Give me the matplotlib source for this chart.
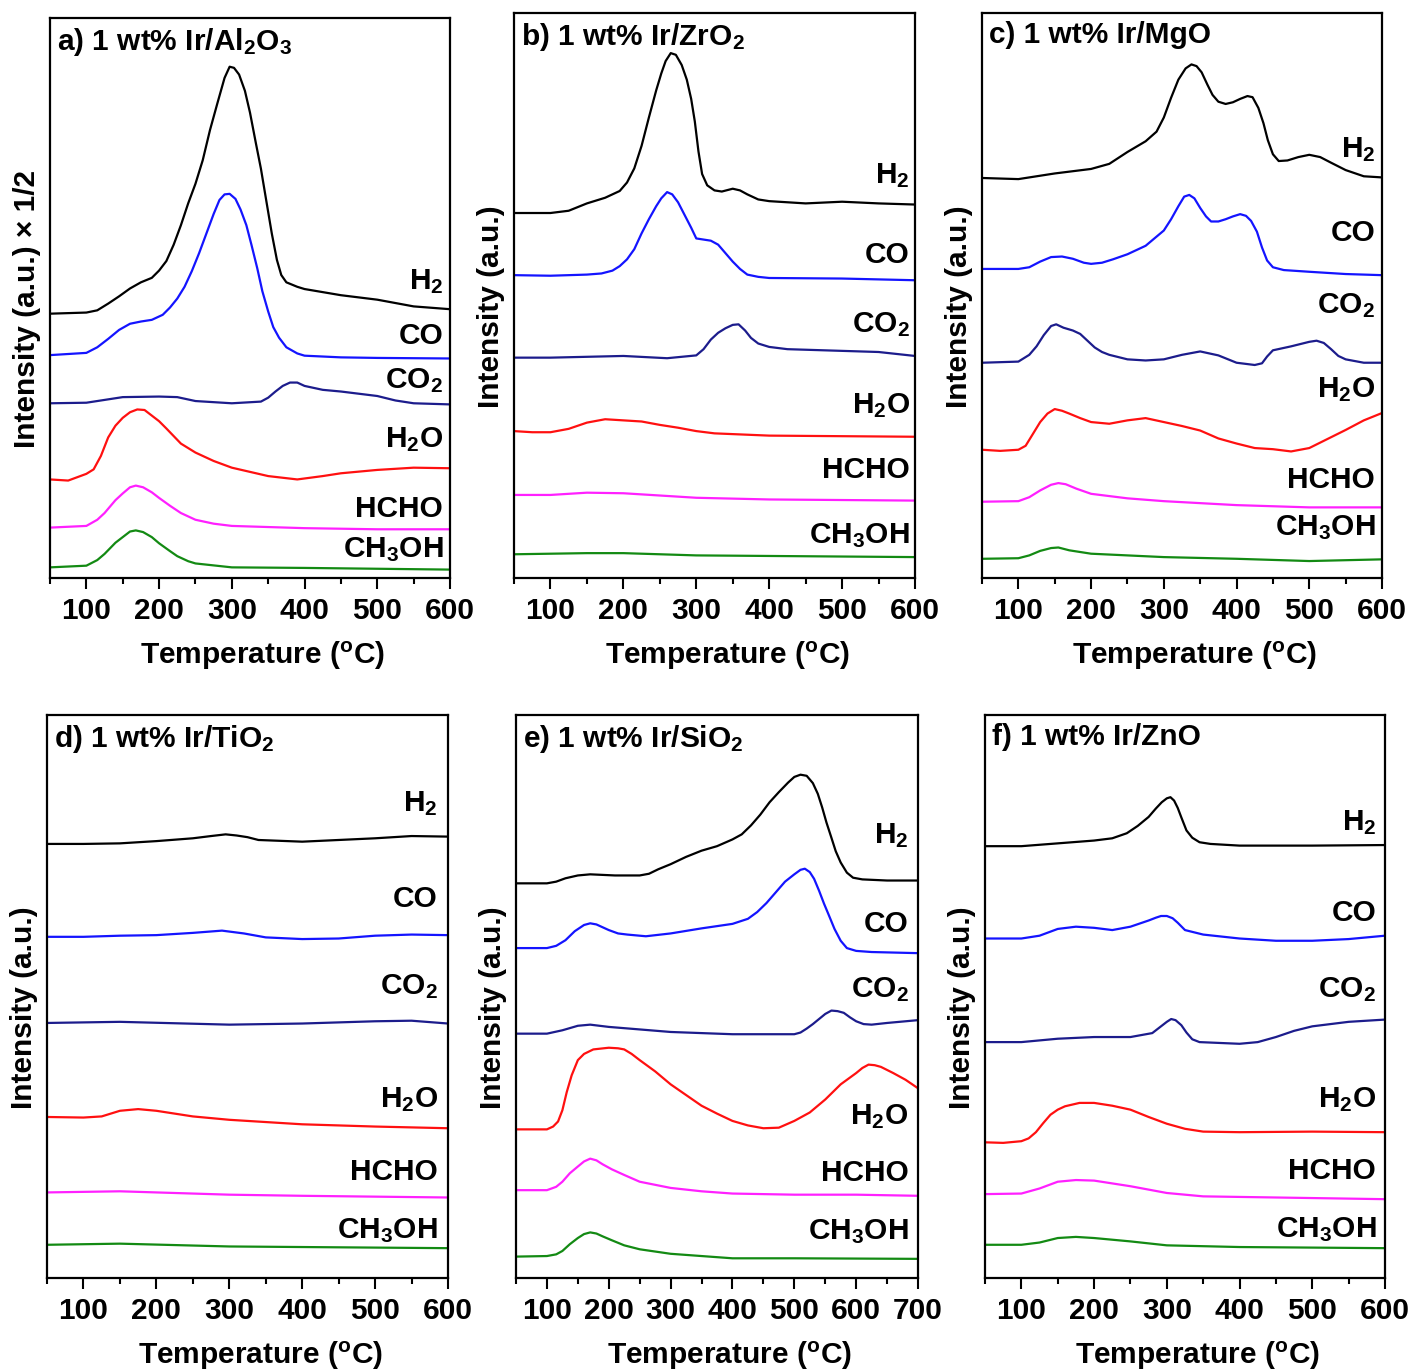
"""TPD-MS panels for 1 wt% Ir on six supports (H2, CO, CO2, H2O, HCHO, CH3OH)."""
import matplotlib
matplotlib.use("Agg")
import matplotlib.pyplot as plt
from matplotlib.ticker import MultipleLocator

plt.rcParams.update({
    "font.family": ["Liberation Sans", "DejaVu Sans"],
    "font.weight": "bold",
    "font.size": 21.5,
    "axes.labelweight": "bold",
    "mathtext.fontset": "custom",
    "mathtext.rm": "Liberation Sans:bold",
    "mathtext.it": "Liberation Sans:bold",
    "mathtext.bf": "Liberation Sans:bold",
    "axes.linewidth": 1.6,
})

SPECIES = ["H2", "CO", "CO2", "H2O", "HCHO", "CH3OH"]
SPECIES_TEX = ["H$_2$", "CO", "CO$_2$", "H$_2$O", "HCHO", "CH$_3$OH"]
COLORS = ["#000000", "#1414ff", "#1c1c8c", "#ff1010", "#ff20ff", "#138a13"]
TITLES = ["a) 1 wt% Ir/Al$_2$O$_3$", "b) 1 wt% Ir/ZrO$_2$", "c) 1 wt% Ir/MgO",
          "d) 1 wt% Ir/TiO$_2$", "e) 1 wt% Ir/SiO$_2$", "f) 1 wt% Ir/ZnO"]

# intensity (a.u., offset traces, % of panel height) vs temperature (C)
# ---- a) Al2O3 ----
A_H2 = [(50, 47.2), (100, 47.4), (115, 47.8), (130, 49.0), (145, 50.3), (160, 51.7),
        (175, 52.8), (190, 53.6), (200, 54.9), (210, 56.6), (220, 59.5), (230, 63.0),
        (240, 66.9), (250, 70.4), (260, 74.6), (270, 80.0), (280, 84.7), (290, 89.3),
        (297, 91.3), (303, 91.1), (310, 89.9), (318, 87.0), (325, 83.1), (333, 77.7),
        (340, 73.1), (348, 66.9), (355, 61.5), (362, 56.8), (368, 54.1), (375, 52.8),
        (390, 52.0), (400, 51.6), (450, 50.5), (500, 49.7), (550, 48.5), (600, 48.0)]
A_CO = [(50, 39.8), (100, 40.2), (115, 41.2), (130, 42.7), (145, 44.3), (160, 45.4),
        (175, 45.8), (190, 46.1), (205, 47.0), (215, 48.3), (225, 49.9), (235, 52.0),
        (245, 54.8), (255, 58.0), (265, 61.5), (275, 65.0), (283, 67.5), (290, 68.5),
        (297, 68.6), (305, 67.7), (312, 65.8), (320, 63.0), (327, 59.5), (335, 55.3),
        (342, 51.2), (350, 47.6), (357, 44.8), (365, 42.9), (375, 41.2), (390, 40.1),
        (400, 39.7), (450, 39.4), (500, 39.3), (600, 39.2)]
A_CO2 = [(50, 31.2), (100, 31.3), (150, 32.3), (200, 32.4), (225, 32.3), (250, 31.6),
         (300, 31.2), (340, 31.5), (350, 32.2), (360, 33.3), (370, 34.3), (380, 34.9),
         (390, 34.9), (400, 34.3), (425, 33.6), (450, 33.3), (500, 32.5), (525, 31.7),
         (550, 31.2), (600, 31.0)]
A_H2O = [(50, 17.6), (75, 17.4), (100, 18.6), (110, 19.4), (120, 21.8), (130, 25.1),
         (140, 27.2), (150, 28.6), (160, 29.6), (170, 30.1), (180, 30.0), (190, 29.0),
         (200, 28.0), (210, 26.7), (230, 24.0), (250, 22.4), (275, 20.9), (300, 19.7),
         (350, 18.2), (390, 17.6), (425, 18.2), (450, 18.7), (500, 19.3), (550, 19.7),
         (600, 19.6)]
A_HCHO = [(50, 9.0), (100, 9.3), (115, 10.4), (125, 11.6), (140, 13.9), (150, 15.1),
          (160, 16.2), (168, 16.5), (178, 16.2), (190, 15.3), (200, 14.3), (215, 12.9),
          (230, 11.6), (250, 10.4), (275, 9.7), (300, 9.3), (400, 8.9), (500, 8.7),
          (600, 8.7)]
A_CH3OH = [(50, 1.9), (100, 2.2), (115, 3.2), (125, 4.3), (140, 6.3), (150, 7.3),
           (160, 8.3), (168, 8.5), (178, 8.2), (190, 7.3), (200, 6.2), (215, 4.8),
           (225, 3.9), (240, 3.0), (250, 2.6), (300, 1.9), (400, 1.8), (600, 1.5)]

# ---- b) ZrO2 ----
B_H2 = [(50, 64.6), (100, 64.6), (125, 65.0), (150, 66.3), (175, 67.3), (195, 68.5),
        (205, 70.0), (215, 72.5), (225, 76.5), (235, 81.5), (245, 86.3), (252, 89.3),
        (258, 91.5), (265, 92.9), (272, 92.6), (280, 90.8), (287, 88.2), (293, 84.8),
        (298, 80.8), (303, 75.5), (308, 71.5), (315, 69.5), (325, 68.6), (335, 68.4),
        (350, 68.9), (360, 68.6), (370, 67.9), (385, 67.0), (400, 66.7), (450, 66.3),
        (500, 66.6), (550, 66.3), (600, 66.1)]
B_CO = [(50, 53.6), (100, 53.5), (150, 53.7), (170, 53.9), (185, 54.4), (195, 55.2),
        (205, 56.4), (215, 58.2), (225, 61.0), (235, 63.5), (245, 65.8), (252, 67.2),
        (260, 68.3), (267, 67.9), (275, 66.5), (285, 64.0), (293, 62.0), (300, 60.1),
        (310, 59.9), (320, 59.7), (330, 59.0), (340, 57.5), (350, 56.0), (360, 54.7),
        (370, 53.7), (385, 53.3), (400, 53.1), (500, 53.0), (600, 52.7)]
B_CO2 = [(50, 39.0), (100, 39.0), (200, 39.3), (260, 38.9), (300, 39.4), (310, 40.5),
         (320, 42.2), (330, 43.4), (340, 44.2), (350, 44.8), (358, 44.9), (367, 43.8),
         (375, 42.5), (385, 41.5), (400, 40.9), (425, 40.5), (500, 40.2), (550, 40.0),
         (600, 39.3)]
B_H2O = [(50, 26.0), (75, 25.8), (100, 25.8), (125, 26.4), (150, 27.5), (175, 28.1),
         (200, 27.9), (225, 27.7), (250, 27.1), (275, 26.6), (300, 26.0), (325, 25.6),
         (400, 25.2), (500, 25.1), (600, 25.0)]
B_HCHO = [(50, 14.7), (100, 14.7), (150, 15.1), (200, 15.0), (300, 14.2), (400, 13.9),
          (600, 13.7)]
B_CH3OH = [(50, 4.2), (150, 4.4), (200, 4.4), (300, 4.0), (600, 3.7)]

# ---- c) MgO ----
C_H2 = [(50, 70.8), (100, 70.6), (150, 71.6), (200, 72.4), (225, 73.3), (250, 75.4),
        (275, 77.3), (290, 79.0), (300, 81.5), (310, 85.0), (320, 88.2), (330, 90.2),
        (338, 90.9), (345, 90.6), (352, 89.5), (360, 87.3), (367, 85.5), (375, 84.3),
        (385, 83.9), (395, 84.2), (405, 84.8), (415, 85.3), (422, 85.1), (430, 83.2),
        (437, 80.5), (443, 77.5), (450, 75.0), (458, 73.8), (470, 73.9), (485, 74.5),
        (500, 74.9), (515, 74.5), (530, 73.5), (550, 72.2), (575, 71.1), (600, 70.9)]
C_CO = [(50, 54.7), (100, 54.7), (115, 55.0), (130, 56.0), (145, 56.8), (160, 56.9),
        (175, 56.5), (190, 55.8), (200, 55.6), (215, 55.8), (230, 56.4), (250, 57.3),
        (275, 58.8), (300, 61.5), (310, 63.5), (320, 65.8), (328, 67.5), (335, 67.8),
        (342, 67.2), (350, 65.5), (358, 64.0), (365, 63.1), (375, 63.1), (385, 63.5),
        (395, 64.0), (405, 64.4), (413, 64.1), (420, 63.2), (428, 61.3), (435, 58.5),
        (442, 56.2), (450, 55.0), (465, 54.5), (500, 54.2), (550, 53.8), (600, 53.6)]
C_CO2 = [(50, 38.1), (100, 38.3), (115, 39.5), (125, 41.0), (135, 43.0), (145, 44.6),
         (152, 44.9), (162, 44.3), (175, 43.8), (185, 43.2), (195, 42.0), (205, 40.8),
         (215, 40.0), (225, 39.5), (250, 38.7), (275, 38.5), (300, 38.7), (325, 39.5),
         (350, 40.1), (375, 39.4), (400, 38.1), (425, 37.7), (435, 38.0), (442, 39.2),
         (450, 40.3), (475, 41.0), (500, 41.8), (510, 42.0), (520, 41.6), (530, 40.5),
         (540, 39.3), (550, 38.7), (575, 38.1), (600, 38.1)]
C_H2O = [(50, 22.7), (75, 22.5), (100, 22.7), (110, 23.4), (120, 25.5), (130, 27.6),
         (140, 29.1), (150, 29.9), (160, 29.6), (170, 29.1), (185, 28.3), (200, 27.6),
         (225, 27.3), (250, 27.9), (275, 28.3), (300, 27.6), (325, 26.9), (350, 26.1),
         (375, 24.7), (400, 23.8), (425, 23.0), (450, 22.8), (475, 22.4), (500, 23.0),
         (525, 24.6), (550, 26.2), (575, 27.9), (600, 29.2)]
C_HCHO = [(50, 13.5), (100, 13.6), (115, 14.3), (130, 15.5), (145, 16.5), (155, 16.8),
          (165, 16.6), (180, 15.8), (200, 14.9), (250, 14.1), (300, 13.6), (400, 12.9),
          (500, 12.5), (600, 12.5)]
C_CH3OH = [(50, 3.4), (100, 3.5), (115, 4.0), (130, 4.8), (145, 5.3), (155, 5.4),
           (170, 4.9), (200, 4.3), (300, 3.7), (400, 3.4), (500, 3.0), (600, 3.3)]

# ---- d) TiO2 ----
D_H2 = [(50, 77.1), (100, 77.1), (150, 77.2), (200, 77.6), (250, 78.1), (275, 78.5),
        (295, 78.8), (310, 78.6), (325, 78.3), (340, 77.8), (400, 77.5), (450, 77.8),
        (500, 78.1), (550, 78.5), (600, 78.4)]
D_CO = [(50, 60.6), (100, 60.6), (150, 60.8), (200, 60.9), (250, 61.3), (290, 61.7),
        (320, 61.2), (350, 60.5), (400, 60.2), (450, 60.3), (500, 60.8), (550, 61.0),
        (600, 60.9)]
D_CO2 = [(50, 45.3), (150, 45.5), (300, 45.0), (400, 45.2), (500, 45.6), (550, 45.7),
         (600, 45.2)]
D_H2O = [(50, 28.6), (100, 28.5), (125, 28.7), (150, 29.7), (175, 30.0), (200, 29.7),
         (250, 28.7), (300, 28.1), (400, 27.3), (500, 26.9), (600, 26.6)]
D_HCHO = [(50, 15.2), (150, 15.4), (200, 15.2), (300, 14.8), (400, 14.6), (600, 14.3)]
D_CH3OH = [(50, 5.9), (150, 6.1), (300, 5.6), (600, 5.3)]

# ---- e) SiO2 ----
E_H2 = [(50, 70.1), (100, 70.1), (115, 70.4), (130, 71.0), (150, 71.5), (170, 71.7),
        (190, 71.6), (210, 71.5), (250, 71.5), (265, 71.8), (280, 72.6), (300, 73.5),
        (325, 74.8), (350, 75.9), (375, 76.7), (400, 77.9), (415, 78.8), (430, 80.4),
        (445, 82.3), (460, 84.5), (475, 86.3), (490, 88.0), (500, 89.0), (510, 89.4),
        (520, 89.2), (530, 87.9), (538, 86.0), (545, 83.6), (552, 80.9), (560, 78.2),
        (567, 75.8), (575, 73.8), (585, 72.0), (595, 71.1), (610, 70.8), (650, 70.6),
        (700, 70.6)]
E_CO = [(50, 58.6), (100, 58.6), (115, 59.0), (130, 60.0), (145, 61.6), (160, 62.7),
        (170, 63.0), (180, 62.8), (190, 62.3), (200, 61.8), (215, 61.2), (230, 61.0),
        (260, 60.7), (300, 61.2), (350, 62.1), (400, 62.9), (425, 63.8), (440, 65.0),
        (455, 66.6), (470, 68.5), (485, 70.4), (500, 71.7), (510, 72.5), (517, 72.7),
        (525, 72.1), (532, 70.9), (540, 68.8), (548, 66.5), (556, 64.4), (565, 62.0),
        (575, 59.9), (585, 58.6), (600, 58.1), (625, 57.9), (700, 57.7)]
E_CO2 = [(50, 43.4), (100, 43.4), (125, 44.0), (150, 44.8), (170, 45.0), (200, 44.6),
         (300, 43.7), (400, 43.3), (500, 43.3), (510, 43.6), (520, 44.3), (530, 45.1),
         (540, 46.0), (550, 46.9), (560, 47.5), (570, 47.4), (580, 47.1), (590, 46.3),
         (600, 45.6), (612, 45.1), (625, 45.0), (650, 45.3), (700, 45.8)]
E_H2O = [(50, 26.4), (100, 26.4), (110, 26.9), (118, 27.8), (125, 29.8), (132, 33.0),
         (140, 36.0), (150, 38.7), (160, 39.8), (175, 40.6), (200, 40.9), (215, 40.8),
         (225, 40.6), (237, 39.8), (250, 38.7), (275, 36.7), (300, 34.4), (325, 32.5),
         (350, 30.6), (375, 29.2), (400, 27.9), (425, 27.1), (450, 26.6), (475, 26.7),
         (500, 27.9), (525, 29.4), (550, 31.7), (575, 34.4), (600, 36.4), (610, 37.3),
         (620, 37.9), (630, 37.8), (640, 37.5), (660, 36.4), (680, 35.2), (700, 33.7)]
E_HCHO = [(50, 15.6), (100, 15.6), (115, 16.2), (125, 17.1), (137, 18.6), (150, 19.8),
          (160, 20.7), (170, 21.2), (180, 20.9), (190, 20.2), (205, 19.3), (225, 18.3),
          (250, 17.1), (300, 16.0), (350, 15.4), (400, 15.0), (500, 14.8), (600, 14.8),
          (700, 14.6)]
E_CH3OH = [(50, 3.8), (100, 3.9), (115, 4.2), (125, 4.8), (137, 6.0), (150, 7.1),
           (160, 7.8), (170, 8.1), (180, 7.9), (190, 7.4), (205, 6.7), (225, 5.8),
           (250, 5.1), (300, 4.3), (400, 3.5), (500, 3.5), (700, 3.4)]

# ---- f) ZnO ----
F_H2 = [(50, 76.7), (100, 76.7), (150, 77.2), (200, 77.7), (225, 78.1), (245, 79.0),
        (260, 80.3), (275, 81.9), (285, 83.4), (293, 84.5), (300, 85.2), (305, 85.4),
        (310, 84.8), (315, 83.5), (320, 81.8), (327, 79.5), (335, 78.2), (345, 77.4),
        (360, 77.1), (400, 76.8), (500, 76.8), (600, 76.9)]
F_CO = [(50, 60.3), (100, 60.3), (125, 60.8), (150, 62.0), (175, 62.4), (200, 62.2),
        (225, 61.8), (250, 62.4), (275, 63.5), (285, 64.0), (292, 64.3), (300, 64.3),
        (308, 63.9), (315, 63.1), (325, 61.8), (350, 61.0), (400, 60.3), (450, 59.9),
        (500, 59.9), (550, 60.2), (600, 60.8)]
F_CO2 = [(50, 41.9), (100, 41.9), (150, 42.5), (200, 42.8), (250, 42.8), (280, 43.5),
         (290, 44.5), (300, 45.5), (306, 46.0), (312, 45.8), (320, 44.9), (327, 43.6),
         (335, 42.4), (345, 41.9), (400, 41.6), (425, 41.9), (450, 42.8), (475, 43.9),
         (500, 44.7), (550, 45.5), (600, 45.9)]
F_H2O = [(50, 24.1), (75, 24.0), (100, 24.3), (110, 24.8), (120, 25.9), (130, 27.5),
         (140, 29.0), (150, 29.9), (160, 30.5), (180, 31.1), (200, 31.1), (225, 30.6),
         (250, 29.9), (275, 28.6), (300, 27.4), (325, 26.5), (350, 26.0), (400, 25.9),
         (500, 26.0), (600, 25.9)]
F_HCHO = [(50, 14.9), (100, 15.0), (125, 15.9), (150, 17.1), (175, 17.4), (200, 17.3),
          (250, 16.3), (300, 15.1), (350, 14.5), (400, 14.4), (600, 14.0)]
F_CH3OH = [(50, 5.9), (100, 5.9), (125, 6.3), (150, 7.1), (175, 7.3), (200, 7.1),
           (250, 6.5), (300, 5.8), (400, 5.5), (600, 5.3)]

PANEL_DATA = [
    [A_H2, A_CO, A_CO2, A_H2O, A_HCHO, A_CH3OH],
    [B_H2, B_CO, B_CO2, B_H2O, B_HCHO, B_CH3OH],
    [C_H2, C_CO, C_CO2, C_H2O, C_HCHO, C_CH3OH],
    [D_H2, D_CO, D_CO2, D_H2O, D_HCHO, D_CH3OH],
    [E_H2, E_CO, E_CO2, E_H2O, E_HCHO, E_CH3OH],
    [F_H2, F_CO, F_CO2, F_H2O, F_HCHO, F_CH3OH],
]
X_MAX = [600, 600, 600, 600, 700, 600]

# ---- layout (pixel boxes: left, top, right, bottom) and label placement ----
W, H = 1411, 1371
BOXES = [(50, 18, 450, 578), (514, 13, 915, 578), (982, 13, 1382, 578),
         (47, 715, 448, 1278), (516, 715, 918, 1278), (985, 715, 1385, 1278)]
LABEL_Y = [[53.0, 43.3, 35.2, 24.7, 12.4, 5.0],
           [71.3, 57.1, 44.8, 30.6, 19.1, 7.5],
           [75.9, 61.0, 48.3, 33.4, 17.3, 8.9],
           [84.3, 67.3, 51.7, 31.6, 18.9, 8.4],
           [78.6, 62.9, 51.3, 28.7, 18.7, 8.3],
           [80.8, 64.9, 51.2, 31.6, 19.0, 8.6]]
LABEL_X = [0.983, 0.987, 0.983, 0.975, 0.977, 0.978]
YLABELS = ["Intensity (a.u.) \u00d7 1/2"] + ["Intensity (a.u.)"] * 5

fig = plt.figure(figsize=(W / 100, H / 100), dpi=100)

for i, series in enumerate(PANEL_DATA):
    l, t, r, b = BOXES[i]
    ax = fig.add_axes((l / W, 1 - b / H, (r - l) / W, (b - t) / H))
    for pts, col in zip(series, COLORS):
        ax.plot([p[0] for p in pts], [p[1] for p in pts], color=col, lw=1.6)
    for lab, ly in zip(SPECIES_TEX, LABEL_Y[i]):
        ax.text(LABEL_X[i], ly / 100, lab, transform=ax.transAxes,
                ha="right", va="center")
    ax.text(0.018, 0.985, TITLES[i], transform=ax.transAxes, ha="left", va="top")

    ax.set_xlim(50, X_MAX[i])
    ax.set_ylim(0, 100)
    ticks = list(range(100, X_MAX[i] + 1, 100))
    ax.set_xticks(ticks)
    ax.set_xticklabels([str(v) for v in ticks], fontweight="bold")
    ax.xaxis.set_minor_locator(MultipleLocator(50))
    ax.tick_params(axis="x", which="major", direction="out", length=8, width=1.5, pad=6)
    ax.tick_params(axis="x", which="minor", direction="out", length=4, width=1.5)
    ax.tick_params(axis="y", which="both", left=False, labelleft=False)
    ax.set_xlabel("Temperature ($^\\mathregular{o}$C)", labelpad=10, fontweight="bold")
    ax.xaxis.label.set_x(0.532)
    ax.set_ylabel(YLABELS[i], fontweight="bold")
    ax.yaxis.set_label_coords(-0.022, 0.48)

fig.savefig("out.png", dpi=100)
